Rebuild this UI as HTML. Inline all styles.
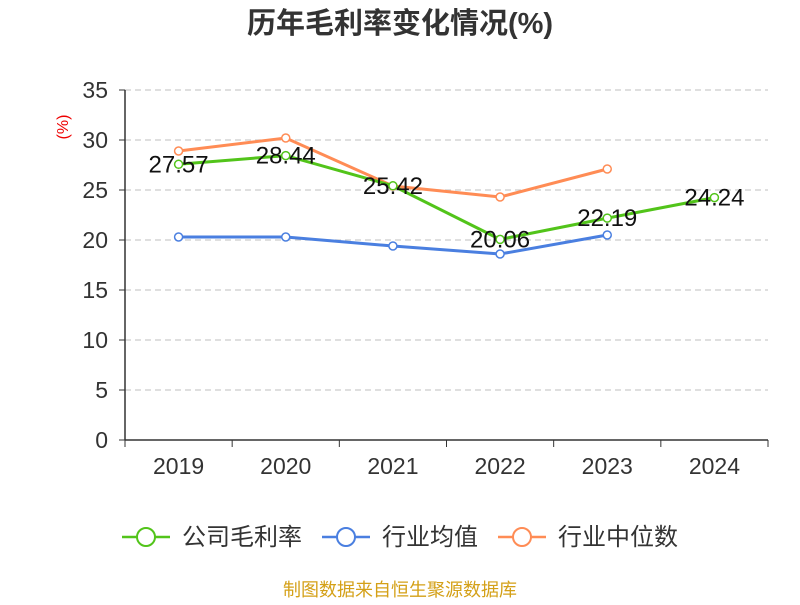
<!DOCTYPE html>
<html><head><meta charset="utf-8"><style>
body{margin:0;background:#fff;width:800px;height:600px;overflow:hidden;font-family:"Liberation Sans","Noto Sans CJK SC",sans-serif}
</style></head><body>
<svg id="chart" width="800" height="600" xmlns="http://www.w3.org/2000/svg">
<text x="400" y="33" text-anchor="middle" font-size="29" font-weight="bold" fill="#333" font-family="Liberation Sans,Noto Sans CJK SC,sans-serif">历年毛利率变化情况(%)</text>
<text transform="translate(68,127) rotate(-90)" text-anchor="middle" font-size="16" fill="#e00">(%)</text>
<g id="grid"></g><g id="axes"></g><g id="series"></g>
<g>
<g><line x1="122" y1="537" x2="170" y2="537" stroke="#52c41a" stroke-width="2.5"/><circle cx="146" cy="537" r="9" fill="#fff" stroke="#52c41a" stroke-width="2"/><text x="182" y="545" font-size="24" fill="#333">公司毛利率</text></g>
<g><line x1="322" y1="537" x2="370" y2="537" stroke="#4a7fe0" stroke-width="2.5"/><circle cx="346" cy="537" r="9" fill="#fff" stroke="#4a7fe0" stroke-width="2"/><text x="382" y="545" font-size="24" fill="#333">行业均值</text></g>
<g><line x1="498" y1="537" x2="546" y2="537" stroke="#ff8c55" stroke-width="2.5"/><circle cx="522" cy="537" r="9" fill="#fff" stroke="#ff8c55" stroke-width="2"/><text x="558" y="545" font-size="24" fill="#333">行业中位数</text></g>
</g>
<text x="400" y="596" text-anchor="middle" font-size="18" fill="#d4a017">制图数据来自恒生聚源数据库</text>
</svg>
<script>
const categories=["2019","2020","2021","2022","2023","2024"];
const grossMargin=[27.57,28.44,25.42,20.06,22.19,24.24];
const industryAvg=[20.3,20.3,19.4,18.6,20.5,null];
const industryMedian=[28.9,30.2,25.4,24.3,27.1,null];
const yTicks=[0,5,10,15,20,25,30,35];
const NS="http://www.w3.org/2000/svg";
const x0=125,x1=768,yb=440,yt=90,ymax=35;
const band=(x1-x0)/categories.length;
const xs=i=>x0+band*(i+0.5);
const ys=v=>yb-(v/ymax)*(yb-yt);
function mk(tag,attrs,parent){const e=document.createElementNS(NS,tag);for(const k in attrs)e.setAttribute(k,attrs[k]);parent.appendChild(e);return e;}
const grid=document.getElementById('grid'),axes=document.getElementById('axes'),ser=document.getElementById('series');
yTicks.forEach(t=>{const y=ys(t);
 if(t>0){const g=mk('line',{x1:x0,x2:x1,y1:y,y2:y,stroke:'#ccc','stroke-dasharray':'6,4','stroke-width':1.3},grid);
 
 }
 const tk=mk('line',{x1:x0-6,x2:x0,y1:y,y2:y,stroke:'#333'},axes);
 
 
 const lb=mk('text',{x:x0-17,y:y+8,'text-anchor':'end','font-size':23,fill:'#333'},axes);lb.textContent=t;
 
 
});
const ya=mk('line',{x1:x0,x2:x0,y1:yt,y2:yb,stroke:'#333','stroke-width':1.5},axes);


const xa=mk('line',{x1:x0,x2:x1,y1:yb,y2:yb,stroke:'#333','stroke-width':1.5},axes);


for(let i=0;i<=categories.length;i++){const x=x0+band*i;const t=mk('line',{x1:x,x2:x,y1:yb,y2:yb+7,stroke:'#333'},axes);
 
 }
categories.forEach((c,i)=>{const l=mk('text',{x:xs(i),y:yb+34,'text-anchor':'middle','font-size':23,fill:'#333'},axes);l.textContent=c;
 
 });
function series(vals,color,name,labels){
 const pts=vals.map((v,i)=>v==null?null:[xs(i),ys(v)]).filter(p=>p);
 const pl=mk('polyline',{points:pts.map(p=>p.join(',')).join(' '),fill:'none',stroke:color,'stroke-width':3},ser);
 
 
 vals.forEach((v,i)=>{if(v==null)return;
  const c=mk('circle',{cx:xs(i),cy:ys(v),r:4,fill:'#fff',stroke:color,'stroke-width':1.5},ser);
  
  
  if(labels){const t=mk('text',{x:xs(i),y:ys(v)+8,'text-anchor':'middle','font-size':24,fill:'#111'},ser);t.textContent=v.toFixed(2);
   
   }
 });
}
series(industryAvg,'#4a7fe0','industry-average',false);
series(industryMedian,'#ff8c55','industry-median',false);
series(grossMargin,'#52c41a','gross-margin',true);
</script>
</body></html>
